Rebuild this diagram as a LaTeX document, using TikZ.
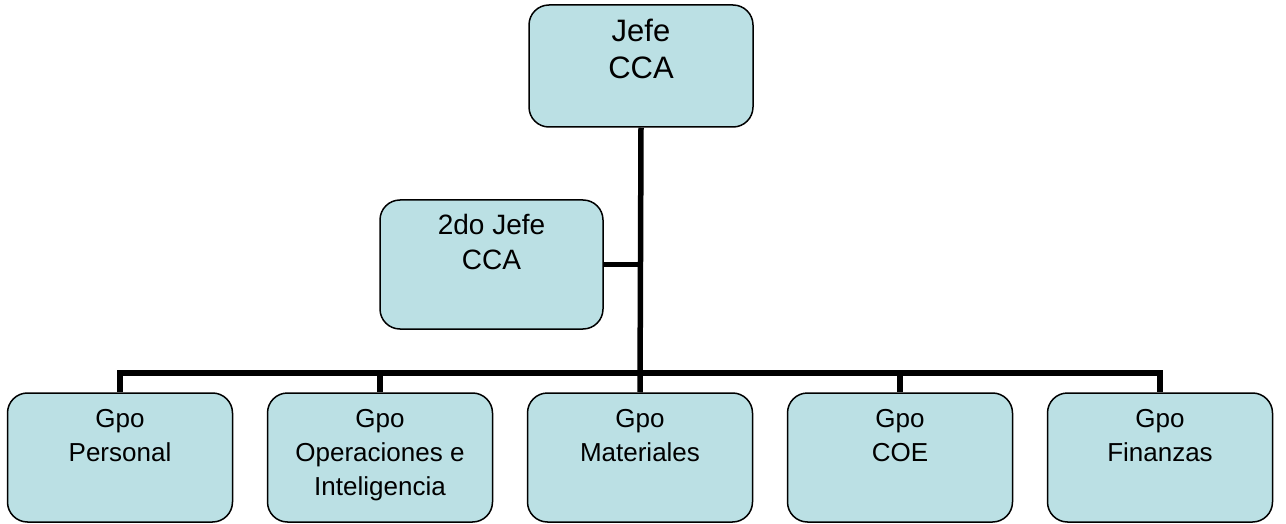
\documentclass[tikz,border=0pt]{standalone}
\usepackage{fontspec}
\setmainfont{Liberation Sans}
\usetikzlibrary{positioning}
\definecolor{boxfill}{RGB}{187,224,228}

\tikzset{
    orgbox/.style={draw, fill=boxfill, line width=1.5pt, rounded corners=20pt,
        inner sep=0pt, minimum width=224pt, minimum height=129pt},
    orgtext/.style={anchor=north, align=center, inner sep=0pt},
    link/.style={line width=5.5pt}
}

\begin{document}
\begin{tikzpicture}[x=1pt, y=-1pt]
    \useasboundingbox (0,0) rectangle (1286,524);
    % jefe y segundo jefe
    \node[orgbox, minimum height=122pt] (jefe) at (641,66) {};
    \node[orgtext, below=15pt of jefe.north, font=\fontsize{31}{37}\selectfont] (jefe-t) {Jefe\\CCA};
    \node[orgbox, minimum width=223pt] (sub) at (491.5,264.5) {};
    \node[orgtext, below=15pt of sub.north, font=\fontsize{28}{35}\selectfont] (sub-t) {2do Jefe\\CCA};
    % grupos
    \foreach \name/\txt [count=\i from 0] in {per/{Gpo\\Personal}, ope/{Gpo\\Operaciones e\\Inteligencia},
        mat/{Gpo\\Materiales}, coe/{Gpo\\COE}, fin/{Gpo\\Finanzas}} {
        \node[orgbox, minimum width=225pt] (\name) at ({120+260*\i},457.5) {};
        \node[orgtext, below=17pt of \name.north, font=\fontsize{26}{34}\selectfont] (\name-t) {\txt};
    }
    % lineas
    \coordinate (bus) at (641,373);
    \draw[link] (jefe.south) -- (mat.north);
    \draw[link] (sub.east) -- (sub.east -| jefe.south);
    \draw[link] (per.north) |- (fin.north |- bus) -- (fin.north);
    \foreach \b in {ope,coe}
        \draw[link] (\b.north) -- (\b.north |- bus);
\end{tikzpicture}
\end{document}
